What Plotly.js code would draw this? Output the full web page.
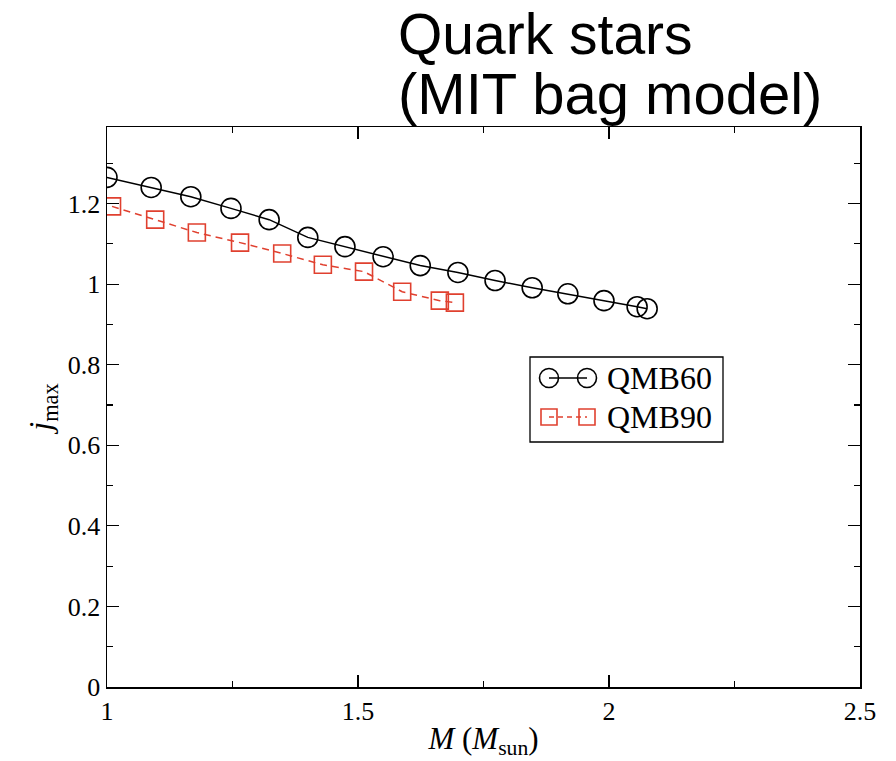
<!DOCTYPE html>
<html>
<head>
<meta charset="utf-8">
<script src="https://cdn.plot.ly/plotly-3.0.1.min.js"></script>
<style>html,body{margin:0;padding:0;background:#fff;}#chart{width:896px;height:761px;}</style>
</head>
<body>
<div id="chart"></div>
<script>
// QMB60 (black circles, solid line)
const qmb60Mass = [1.000, 1.088, 1.167, 1.247, 1.323, 1.400, 1.474, 1.550, 1.624, 1.699, 1.773, 1.847, 1.918, 1.990, 2.056, 2.076];
const qmb60J    = [1.265, 1.240, 1.217, 1.188, 1.160, 1.116, 1.093, 1.068, 1.046, 1.029, 1.009, 0.991, 0.976, 0.959, 0.944, 0.939];
// QMB90 (red squares, dashed line)
const qmb90Mass = [1.010, 1.096, 1.179, 1.265, 1.349, 1.430, 1.512, 1.588, 1.663, 1.693];
const qmb90J    = [1.193, 1.160, 1.128, 1.103, 1.076, 1.048, 1.031, 0.981, 0.959, 0.954];

const seriesNames = ["QMB60", "QMB90"];
const titleLines = ["Quark stars", "(MIT bag model)"];
const xTickVals = [1, 1.5, 2, 2.5];
const yTickVals = [0, 0.2, 0.4, 0.6, 0.8, 1, 1.2];

const serif = "Liberation Serif, Times New Roman, serif";
const red = "#e0402f";
const black = "#000";

// plot area geometry (pixels) used to place paper-referenced decorations
const W = 896, H = 761, ML = 107, MR = 36, MT = 127, MB = 74;
const PW = W - ML - MR, PH = H - MT - MB;
const px = v => (v - ML) / PW;
const py = v => (H - MB - v) / PH;

const traces = [
  {
    x: qmb60Mass, y: qmb60J, name: seriesNames[0], type: "scatter", mode: "lines+markers",
    line: {color: black, width: 1.5},
    marker: {symbol: "circle-open", size: 20, color: black, line: {width: 1.6, color: black}}
  },
  {
    x: qmb90Mass, y: qmb90J, name: seriesNames[1], type: "scatter", mode: "lines+markers",
    line: {color: red, width: 1.5, dash: "7px,5px"},
    marker: {symbol: "square-open", size: 17, color: red, line: {width: 1.6, color: red}}
  }
];

const axisCommon = {
  showgrid: false, zeroline: false, showline: true, linecolor: black, linewidth: 1.5,
  mirror: "allticks", ticks: "inside", ticklen: 12, tickwidth: 1.2, tickcolor: black,
  tickfont: {family: serif, size: 26, color: black}
};

// custom legend (two symbols joined by a line, like the original)
const legRows = [
  {y: 378, color: black, dash: "solid", kind: "circle", r: 9.5, name: seriesNames[0]},
  {y: 417, color: red, dash: "dash", kind: "rect", r: 8, name: seriesNames[1]}
];
const legX1 = 549, legX2 = 587;
const shapes = [
  {type: "rect", xref: "paper", yref: "paper", x0: px(530), x1: px(723), y0: py(442), y1: py(357),
   line: {color: black, width: 1.3}, fillcolor: "#fff", layer: "above"}
];
const annotations = [];
legRows.forEach(r => {
  shapes.push({type: "line", xref: "paper", yref: "paper", x0: px(legX1), x1: px(legX2), y0: py(r.y), y1: py(r.y),
    line: {color: r.color, width: 1.5, dash: r.dash === "dash" ? "5px,4px" : "solid"}, layer: "above"});
  [legX1, legX2].forEach(cx => {
    shapes.push({type: r.kind, xref: "paper", yref: "paper", xsizemode: "pixel", ysizemode: "pixel",
      xanchor: px(cx), yanchor: py(r.y), x0: -r.r, x1: r.r, y0: -r.r, y1: r.r,
      line: {color: r.color, width: 1.6}, fillcolor: "rgba(0,0,0,0)", layer: "above"});
  });
  annotations.push({xref: "paper", yref: "paper", x: px(605), y: py(r.y), xanchor: "left", yanchor: "middle",
    showarrow: false, text: r.name, font: {family: serif, size: 32, color: black}});
});
annotations.push(
  {xref: "paper", yref: "paper", x: px(396), y: py(0), xanchor: "left", yanchor: "top", showarrow: false,
   text: titleLines[0], font: {family: "Liberation Sans, Arial, sans-serif", size: 57, color: black}},
  {xref: "paper", yref: "paper", x: px(396), y: py(59), xanchor: "left", yanchor: "top", showarrow: false,
   text: titleLines[1], font: {family: "Liberation Sans, Arial, sans-serif", size: 58, color: black}}
);

const layout = {
  width: W, height: H,
  margin: {l: ML, r: MR, t: MT, b: MB},
  paper_bgcolor: "#fff", plot_bgcolor: "#fff",
  showlegend: false,
  xaxis: Object.assign({}, axisCommon, {
    range: [1, 2.5], tickvals: xTickVals,
    minor: {ticks: "inside", ticklen: 6, dtick: 0.25, tick0: 1, tickcolor: black, tickwidth: 1.2},
    title: {text: "<i>M</i> (<i>M</i><sub>sun</sub>)", font: {family: serif, size: 31, color: black}, standoff: 2}
  }),
  yaxis: Object.assign({}, axisCommon, {
    range: [0, 1.39], tickvals: yTickVals,
    minor: {ticks: "inside", ticklen: 6, dtick: 0.1, tick0: 0, tickcolor: black, tickwidth: 1.2},
    title: {text: "<i>j</i><sub>max</sub>", font: {family: serif, size: 32, color: black}, standoff: 6}
  }),
  shapes: shapes,
  annotations: annotations
};

Plotly.newPlot("chart", traces, layout, {displayModeBar: false, staticPlot: true});
</script>
</body>
</html>
